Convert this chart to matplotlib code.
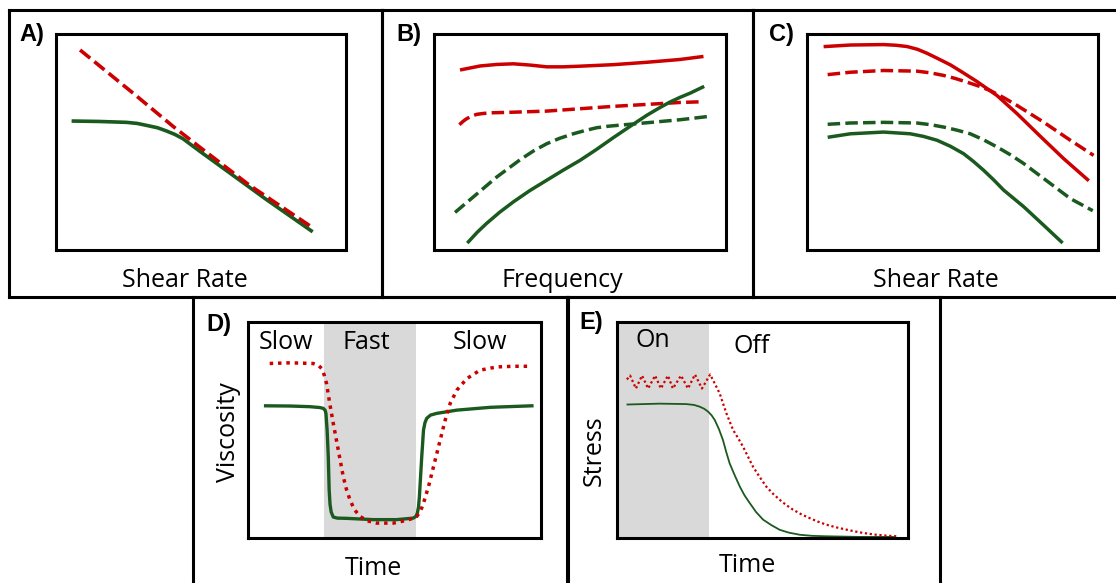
import matplotlib.pyplot as plt

W, H = 1116, 583
RED = "#cc0000"
GREEN = "#1a5a1e"
GREY = "#d9d9d9"
FONT = "Open Sans"

# ---- data (arbitrary units, 0-100 inside each plot box) ----
# A) flow curves
a_red_x = [8.3, 26.6, 40.4, 49.5, 66.7, 88.0]
a_red_y = [92.6, 72.6, 57.2, 47.7, 30.0, 10.8]
a_green_x = [6.0, 15.1, 24.3, 28.0, 31.2, 35.0, 38.1, 41.0, 43.8, 46.5, 49.5, 61.0, 72.5, 88.0]
a_green_y = [59.7, 59.5, 59.1, 58.6, 57.7, 56.6, 55.1, 53.5, 51.5, 48.8, 45.8, 34.6, 23.4, 8.9]

# B) frequency sweep
b_red_x = [9.5, 15.8, 21.5, 27.2, 33.0, 38.6, 44.3, 50.0, 61.4, 72.8, 84.2, 91.7]
b_red_y = [83.5, 85.2, 85.9, 86.2, 85.6, 84.8, 84.8, 85.1, 85.8, 86.9, 88.2, 89.5]
b_redd_x = [8.7, 9.9, 11.2, 12.8, 14.6, 16.8, 19.2, 27.2, 38.6, 50.0, 61.4, 72.8, 84.2, 91.1]
b_redd_y = [58.0, 59.5, 60.8, 61.9, 62.8, 63.2, 63.5, 63.8, 64.3, 65.4, 66.5, 67.4, 68.3, 68.6]
b_grnd_x = [7.2, 13.5, 21.5, 29.5, 34.0, 38.6, 43.0, 47.7, 51.7, 55.7, 59.7, 63.7, 72.8, 84.2, 95.1]
b_grnd_y = [17.4, 24.6, 33.8, 41.8, 45.8, 49.2, 51.7, 53.8, 55.3, 56.6, 57.3, 57.8, 58.9, 60.3, 62.0]
b_grn_x = [11.8, 14.8, 18.0, 22.5, 27.2, 32.8, 38.6, 44.3, 50.0, 55.7, 61.4, 67.1, 72.8, 76.8,
           80.8, 84.3, 87.7, 92.0]
b_grn_y = [3.8, 8.2, 12.3, 17.5, 22.3, 27.5, 32.3, 37.0, 41.5, 46.6, 52.0, 57.2, 62.3, 65.5,
           68.5, 70.7, 72.6, 75.4]

# C) shear rate
c_red_x = [6.3, 14.9, 26.3, 30.5, 34.4, 38.0, 41.2, 45.0, 49.3, 53.5, 58.4, 65.3, 72.2, 80.2,
           88.2, 96.4]
c_red_y = [94.2, 94.9, 95.1, 94.8, 94.2, 92.9, 91.1, 88.6, 85.7, 82.2, 78.0, 71.5, 63.1, 52.6,
           42.3, 32.6]
c_redd_x = [7.1, 14.9, 26.3, 37.8, 42.5, 47.0, 51.0, 55.0, 59.0, 63.0, 67.5, 72.2, 81.3, 90.5, 98.5]
c_redd_y = [81.2, 82.3, 83.1, 82.8, 82.0, 80.8, 79.4, 77.7, 75.9, 73.8, 70.6, 66.9, 59.2, 50.8, 43.8]
c_grnd_x = [7.1, 14.9, 26.3, 37.8, 42.5, 47.0, 51.5, 56.1, 60.7, 65.3, 70.0, 74.5, 83.6, 90.5, 98.2]
c_grnd_y = [58.2, 58.8, 59.1, 58.8, 58.0, 56.9, 55.5, 53.8, 51.0, 47.7, 44.0, 40.0, 30.8, 23.8, 18.2]
c_grn_x = [7.7, 14.9, 26.3, 35.5, 40.0, 44.7, 49.3, 53.8, 57.2, 60.7, 64.2, 67.6, 74.5, 81.3, 87.4]
c_grn_y = [52.3, 53.8, 54.6, 53.8, 52.6, 50.8, 48.0, 44.6, 41.0, 36.9, 32.4, 27.7, 20.0, 11.5, 3.8]

# D) step shear rate
d_fast = (25.9, 57.2)
d_red_x = [7.4, 14.3, 22.2, 24.0, 25.1, 26.0, 26.8, 27.9, 29.1, 30.8, 32.5, 33.6, 34.8, 36.3,
           38.2, 40.8, 43.9, 49.6, 54.2, 56.0, 57.6, 58.9, 59.9, 61.6, 63.9, 65.6, 67.3, 69.0,
           71.3, 74.7, 79.2, 84.9, 90.6, 96.9]
d_red_y = [80.8, 81.1, 80.8, 80.0, 78.5, 75.5, 71.5, 62.3, 53.1, 40.8, 28.5, 22.5, 17.7, 13.2,
           10.0, 7.9, 6.9, 6.9, 8.2, 9.0, 10.0, 12.5, 16.2, 23.8, 36.2, 45.4, 54.6, 62.3,
           68.5, 73.8, 77.7, 79.2, 79.5, 79.5]
d_grn_x = [6.0, 14.3, 21.1, 24.5, 25.7, 26.3, 26.6, 27.0, 27.4, 27.7, 28.0, 28.4, 29.1, 30.5,
           33.6, 42.8, 50.7, 56.4, 57.3, 57.8, 58.2, 58.5, 59.3, 59.9, 60.4, 61.0, 62.3, 64.4,
           71.3, 82.7, 96.9]
d_grn_y = [61.2, 61.1, 60.8, 60.4, 60.0, 59.2, 57.7, 50.0, 37.7, 22.3, 15.5, 12.0, 9.7, 9.2,
           9.1, 8.5, 8.5, 9.2, 10.0, 11.5, 14.5, 19.2, 37.7, 50.0, 53.4, 55.4, 56.9, 57.7,
           59.2, 60.5, 61.2]

# E) stress relaxation
e_on = (0, 31.5)
e_red_x = [3.4, 4.5, 6.5, 8.6, 10.7, 13.1, 15.1, 17.5, 19.2, 22.0, 24.4, 26.8, 29.2, 32.0,
           33.6, 35.3, 36.5, 37.6, 38.7, 39.9, 41.5, 43.3, 45.0, 46.7, 49.0, 51.3, 53.6, 55.9,
           58.2, 60.5, 63.3, 66.2, 69.0, 71.9, 74.8, 77.7, 80.5, 83.4, 86.3, 89.1, 92.5, 96.0]
e_red_y = [73.4, 75.2, 69.2, 75.2, 69.2, 75.2, 69.2, 75.2, 69.2, 75.2, 69.2, 75.7, 69.2, 75.7,
           71.5, 66.9, 62.0, 57.7, 54.0, 50.0, 46.5, 42.3, 37.7, 33.1, 28.3, 23.8, 20.5, 17.7,
           15.2, 13.1, 11.0, 9.2, 7.6, 6.2, 5.1, 4.2, 3.4, 2.6, 2.0, 1.5, 1.1, 0.8]
e_grn_x = [3.6, 14.7, 23.8, 26.5, 28.4, 30.0, 31.3, 32.5, 33.6, 35.0, 36.4, 37.5, 38.7, 40.3,
           42.2, 43.8, 45.6, 47.8, 50.2, 53.0, 55.9, 59.0, 62.8, 67.0, 71.9, 83.4, 94.8]
e_grn_y = [61.8, 62.2, 62.0, 61.6, 60.8, 59.8, 58.5, 56.8, 54.6, 50.5, 45.4, 40.0, 34.6, 29.5,
           23.8, 19.8, 16.2, 12.0, 8.5, 6.0, 3.8, 2.5, 1.5, 1.0, 0.8, 0.5, 0.5]

fig = plt.figure(figsize=(W / 100, H / 100), dpi=100)


def box(l, t, r, b):
    return [l / W, 1 - b / H, (r - l) / W, (b - t) / H]


def make_axes(l, t, r, b, lw=2.2):
    ax = fig.add_axes(box(l, t, r, b))
    ax.set_xticks([])
    ax.set_yticks([])
    for s in ax.spines.values():
        s.set_linewidth(lw)
    ax.patch.set_alpha(0)
    return ax


def inner(l, t, r, b):
    ax = make_axes(l, t, r, b)
    ax.set_xlim(0, 100)
    ax.set_ylim(0, 100)
    return ax


def label(x, y, s, **kw):
    kw.setdefault("fontsize", 18)
    kw.setdefault("family", FONT)
    kw.setdefault("ha", "center")
    kw.setdefault("va", "baseline")
    fig.text(x / W, 1 - y / H, s, **kw)


def panel_tag(x, y, s):
    fig.text(x / W, 1 - y / H, s, fontsize=17, fontweight="bold",
             family="Liberation Sans", ha="left", va="center")


# outer frames
for l, t, r, b in [(9, 10, 382, 297), (382, 10, 753, 297), (753, 10, 1118, 297),
                   (193, 297, 568, 592), (567, 297, 940, 592)]:
    make_axes(l, t, r, b)

dash = (0, (3.6, 1.5))
dots = (0, (1, 1.4))

# A
ax = inner(56, 34, 346, 250)
ax.plot(a_green_x, a_green_y, color=GREEN, lw=2.6)
ax.plot(a_red_x, a_red_y, color=RED, lw=2.6, linestyle=dash)
panel_tag(19, 34, "A)")
label(185, 287, "Shear Rate")

# B
ax = inner(434, 34, 726, 250)
ax.plot(b_red_x, b_red_y, color=RED, lw=2.5)
ax.plot(b_redd_x, b_redd_y, color=RED, lw=2.5, linestyle=dash)
ax.plot(b_grnd_x, b_grnd_y, color=GREEN, lw=2.5, linestyle=dash)
ax.plot(b_grn_x, b_grn_y, color=GREEN, lw=2.5)
panel_tag(396, 34, "B)")
label(562, 287, "Frequency")

# C
ax = inner(807, 34, 1098, 250)
ax.plot(c_red_x, c_red_y, color=RED, lw=2.5)
ax.plot(c_redd_x, c_redd_y, color=RED, lw=2.5, linestyle=dash)
ax.plot(c_grnd_x, c_grnd_y, color=GREEN, lw=2.5, linestyle=dash)
ax.plot(c_grn_x, c_grn_y, color=GREEN, lw=2.5)
panel_tag(769, 34, "C)")
label(936, 287, "Shear Rate")

# D
ax = inner(248, 322, 541, 538)
ax.axvspan(*d_fast, color=GREY, lw=0, zorder=0)
ax.plot(d_grn_x, d_grn_y, color=GREEN, lw=2.4)
ax.plot(d_red_x, d_red_y, color=RED, lw=2.5, linestyle=dots)
panel_tag(206, 324, "D)")
label(286, 349, "Slow")
label(366, 349, "Fast")
label(480, 349, "Slow")
label(373, 575, "Time")
label(228, 432, "Viscosity", rotation=90, va="center")

# E
ax = inner(617, 322, 908, 538)
ax.axvspan(*e_on, color=GREY, lw=0, zorder=0)
ax.plot(e_grn_x, e_grn_y, color=GREEN, lw=1.3)
ax.plot(e_red_x, e_red_y, color=RED, lw=1.6, linestyle=(0, (1, 1.2)))
panel_tag(579, 322, "E)")
label(653, 347, "On")
label(752, 353, "Off")
label(747, 572, "Time")
label(594, 451, "Stress", rotation=90, va="center")

fig.savefig("out.png", dpi=100)
